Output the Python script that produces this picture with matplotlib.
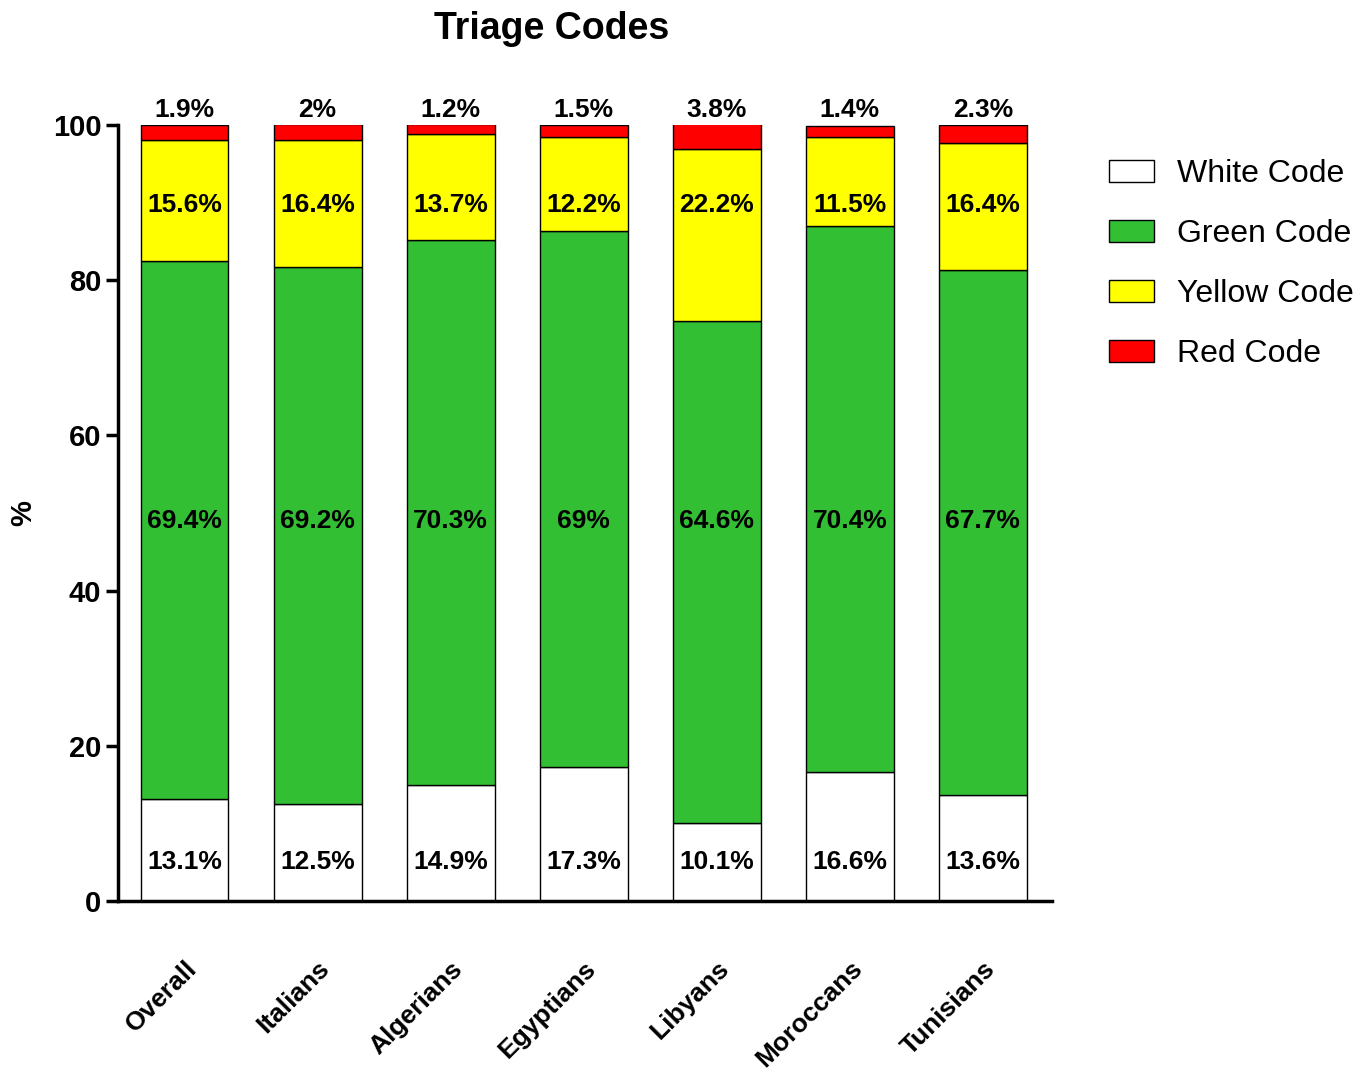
import matplotlib
matplotlib.use("Agg")
import matplotlib.pyplot as plt
import numpy as np

plt.rcParams['font.family'] = ['Liberation Sans', 'DejaVu Sans']

categories = ["Overall", "Italians", "Algerians", "Egyptians", "Libyans", "Moroccans", "Tunisians"]
white = [13.1, 12.5, 14.9, 17.3, 10.1, 16.6, 13.6]
green = [69.4, 69.2, 70.3, 69.0, 64.6, 70.4, 67.7]
yellow = [15.6, 16.4, 13.7, 12.2, 22.2, 11.5, 16.4]
red = [1.9, 2.0, 1.2, 1.5, 3.8, 1.4, 2.3]
red_labels = ["1.9%", "2%", "1.2%", "1.5%", "3.8%", "1.4%", "2.3%"]
green_labels = ["69.4%", "69.2%", "70.3%", "69%", "64.6%", "70.4%", "67.7%"]
series_names = ["White Code", "Green Code", "Yellow Code", "Red Code"]

fig = plt.figure(figsize=(13.68, 10.84), dpi=100)
ax = fig.add_axes([0.0863, 0.1688, 0.6827, 0.7159])

x = np.arange(len(categories))
w = 0.66
colors = ["#FFFFFF", "#33BF33", "#FFFF00", "#FF0000"]
series = [white, green, yellow, red]
bottom = np.zeros(len(categories))
handles = []
for vals, c, name in zip(series, colors, series_names):
    b = ax.bar(x, vals, w, bottom=bottom, color=c, edgecolor="black", linewidth=1.0, label=name)
    handles.append(b)
    bottom = bottom + np.array(vals)

fs = 19
for i in range(len(categories)):
    ax.text(x[i], 5.0, f"{white[i]}%", ha="center", va="center", fontsize=fs, fontweight="bold")
    ax.text(x[i], 49.0, green_labels[i], ha="center", va="center", fontsize=fs, fontweight="bold")
    ax.text(x[i], 89.7, f"{yellow[i]}%", ha="center", va="center", fontsize=fs, fontweight="bold")
    ax.text(x[i], 100.4, red_labels[i], ha="center", va="bottom", fontsize=fs, fontweight="bold")

ax.set_xlim(-0.5, 6.52)
ax.set_ylim(0, 100)
ax.set_yticks([0, 20, 40, 60, 80, 100])
ax.set_yticklabels(["0", "20", "40", "60", "80", "100"], fontsize=21, fontweight="bold")
ax.set_xticks(x)
ax.set_xticklabels(categories, rotation=45, ha="right", rotation_mode="anchor", fontsize=19, fontweight="bold")
ax.tick_params(axis="x", length=0, pad=40)
ax.tick_params(axis="y", length=9, width=2.5, pad=3)
ax.spines["top"].set_visible(False)
ax.spines["right"].set_visible(False)
ax.spines["left"].set_linewidth(2.5)
ax.spines["bottom"].set_linewidth(2.5)
ax.set_ylabel("%", fontsize=21, fontweight="bold", labelpad=11)
ax.set_title("Triage Codes", fontsize=27, fontweight="bold", pad=62, x=0.464)

leg = fig.legend(handles=handles, labels=series_names, loc="upper left",
                 bbox_to_anchor=(0.811, 0.853), frameon=False, fontsize=23,
                 handlelength=1.4, handleheight=0.7, labelspacing=0.94,
                 handletextpad=0.7, borderpad=0, borderaxespad=0)

fig.savefig("out.png", dpi=100)
